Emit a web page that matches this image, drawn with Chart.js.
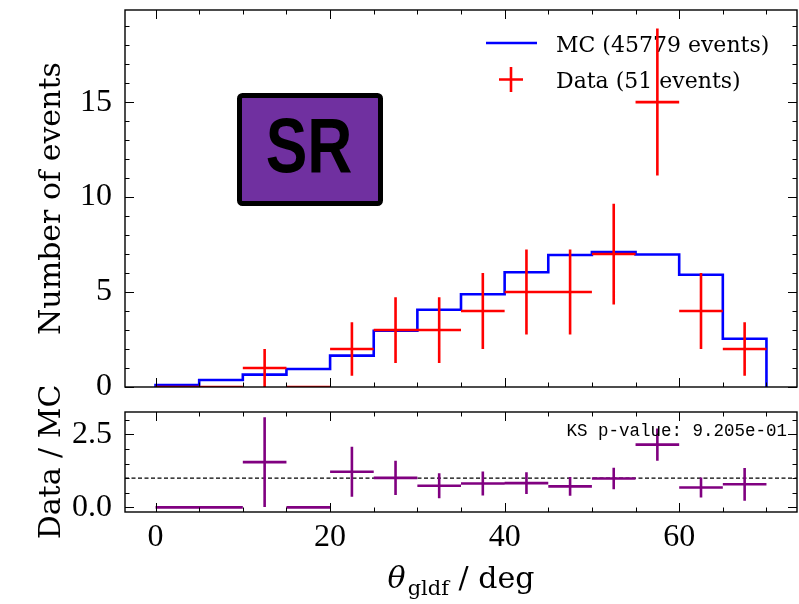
<!DOCTYPE html>
<html lang="en">
<head>
<meta charset="UTF-8">
<title>theta_gldf</title>
<script src="https://cdnjs.cloudflare.com/ajax/libs/Chart.js/4.4.0/chart.umd.min.js"></script>
<style>
  body { margin: 0; background: #fff; }
  #wrap { position: relative; width: 799px; height: 604px; }
  #wrap canvas { position: absolute; left: 0; top: 0; }
</style>
</head>
<body>
<div id="wrap">
  <canvas id="ratioChart" width="799" height="604"></canvas>
  <canvas id="histChart" width="799" height="604"></canvas>
</div>
<script>
// 5 deg bins
const binEdges = [0, 5, 10, 15, 20, 25, 30, 35, 40, 45, 50, 55, 60, 65, 70];
// MC prediction normalised to the data yield
const mcCounts = [0.10, 0.37, 0.65, 0.95, 1.65, 2.96, 4.07, 4.88, 6.04, 6.95, 7.10, 6.98, 5.91, 2.54];
const dataCounts = [0, 0, 1, 0, 2, 3, 3, 4, 5, 5, 7, 15, 4, 2];
const dataErrors = [0, 0, 1.00, 0, 1.41, 1.73, 1.73, 2.00, 2.24, 2.24, 2.65, 3.87, 2.00, 1.41];
// data / MC
const ratioValues = [0, 0, 1.55, 0, 1.22, 1.01, 0.74, 0.82, 0.83, 0.72, 0.99, 2.15, 0.68, 0.79];
const ratioErrors = [0, 0, 1.54, 0, 0.86, 0.59, 0.43, 0.41, 0.37, 0.32, 0.37, 0.55, 0.34, 0.56];
const ratioReference = 1;

const xMajorTicks = [0, 20, 40, 60];
const histYTicks = [0, 5, 10, 15];
const ratioYTicks = [0, 2.5];

const X_MIN = -3.5, X_MAX = 73.5;
const tickFont = { family: 'Liberation Serif', size: 32 };
const labelFamily = 'DejaVu Serif';

function range(from, to, step) {
  const out = [];
  for (let v = from; v <= to + 1e-9; v += step) out.push(+v.toFixed(3));
  return out;
}

// horizontal bar over the bin plus vertical error bar, gaps between crosses
function crossPoints(values, errors) {
  const pts = [];
  values.forEach((v, i) => {
    const lo = binEdges[i], hi = binEdges[i + 1], c = (lo + hi) / 2;
    pts.push({ x: lo, y: v }, { x: hi, y: v }, { x: hi, y: null });
    if (errors[i] > 0) {
      pts.push({ x: c, y: v - errors[i] }, { x: c, y: v + errors[i] }, { x: c, y: null });
    }
  });
  return pts;
}

// step outline of the MC histogram
const mcPoints = [{ x: binEdges[0], y: 0 }];
mcCounts.forEach((v, i) => mcPoints.push({ x: binEdges[i], y: v }));
mcPoints.push({ x: binEdges[binEdges.length - 1], y: 0 });

// inward ticks on all four sides plus the axes frame
const frameTicks = {
  id: 'frameTicks',
  afterDatasetsDraw(chart, args, opts) {
    const { ctx, chartArea: a, scales: { x, y } } = chart;
    ctx.save();
    ctx.strokeStyle = '#000';
    ctx.lineWidth = 1;
    ctx.beginPath();
    const xt = (v, len) => {
      const px = Math.round(x.getPixelForValue(v)) + 0.5;
      ctx.moveTo(px, a.bottom); ctx.lineTo(px, a.bottom - len);
      ctx.moveTo(px, a.top); ctx.lineTo(px, a.top + len);
    };
    const yt = (v, len) => {
      const py = Math.round(y.getPixelForValue(v)) + 0.5;
      ctx.moveTo(a.left, py); ctx.lineTo(a.left + len, py);
      ctx.moveTo(a.right, py); ctx.lineTo(a.right - len, py);
    };
    range(0, 70, 5).forEach(v => xt(v, xMajorTicks.includes(v) ? 9 : 4.5));
    range(opts.yFrom, opts.yTo, opts.yStep).forEach(v => yt(v, opts.yMajor.includes(v) ? 9 : 4.5));
    ctx.stroke();
    ctx.lineWidth = 1.4;
    ctx.strokeRect(a.left, a.top, a.right - a.left, a.bottom - a.top);
    ctx.restore();
  }
};

const histDecor = {
  id: 'histDecor',
  beforeDatasetsDraw(chart) {
    const ctx = chart.ctx;
    ctx.save();
    // legend
    ctx.lineWidth = 2.6;
    ctx.strokeStyle = '#0000ff';
    ctx.beginPath(); ctx.moveTo(486, 43); ctx.lineTo(537, 43); ctx.stroke();
    ctx.strokeStyle = '#ff0000';
    ctx.beginPath();
    ctx.moveTo(499, 79.5); ctx.lineTo(523, 79.5);
    ctx.moveTo(511, 67); ctx.lineTo(511, 92);
    ctx.stroke();
    ctx.fillStyle = '#000';
    ctx.font = '22px ' + labelFamily;
    ctx.textBaseline = 'alphabetic';
    ctx.fillText('MC (45779 events)', 556, 52);
    ctx.fillText('Data (51 events)', 556, 88);
    // y axis title
    ctx.translate(60, (chart.chartArea.top + chart.chartArea.bottom) / 2);
    ctx.rotate(-Math.PI / 2);
    ctx.textAlign = 'center';
    ctx.font = '30px ' + labelFamily;
    ctx.fillText('Number of events', 0, 0);
    ctx.restore();
  },
  afterDraw(chart) {
    const ctx = chart.ctx;
    ctx.save();
    // region tag
    ctx.beginPath();
    ctx.roundRect(239.5, 95.5, 141, 108, 3);
    ctx.fillStyle = '#7030a0';
    ctx.fill();
    ctx.lineWidth = 5;
    ctx.strokeStyle = '#000';
    ctx.stroke();
    ctx.fillStyle = '#000';
    ctx.font = 'bold 78px "Liberation Sans"';
    ctx.textAlign = 'center';
    ctx.translate(309, 172);
    ctx.scale(0.8, 1);
    ctx.fillText('SR', 0, 0);
    ctx.restore();
  }
};

const ratioDecor = {
  id: 'ratioDecor',
  afterDraw(chart) {
    const ctx = chart.ctx;
    const a = chart.chartArea;
    ctx.save();
    ctx.fillStyle = '#000';
    ctx.font = '17.5px "Liberation Mono"';
    ctx.textAlign = 'right';
    ctx.fillText('KS p-value: 9.205e-01', 787, 436);

    // x axis title: theta_gldf / deg
    const main = '30px ' + labelFamily;
    const ital = 'italic 30px ' + labelFamily;
    const sub = '21px ' + labelFamily;
    ctx.textAlign = 'left';
    ctx.font = ital; const wT = ctx.measureText('θ').width;
    ctx.font = sub; const wS = ctx.measureText('gldf').width;
    ctx.font = main; const wD = ctx.measureText(' / deg').width;
    let x0 = (a.left + a.right) / 2 - (wT + 2 + wS + wD) / 2;
    const base = 588;
    ctx.font = ital; ctx.fillText('θ', x0, base); x0 += wT + 2;
    ctx.font = sub; ctx.fillText('gldf', x0, base + 7); x0 += wS;
    ctx.font = main; ctx.fillText(' / deg', x0, base);

    // y axis title
    ctx.translate(60, (a.top + a.bottom) / 2);
    ctx.rotate(-Math.PI / 2);
    ctx.textAlign = 'center';
    ctx.font = '30px ' + labelFamily;
    ctx.fillText('Data / MC', 0, 0);
    ctx.restore();
  }
};

function fixedAxis(size, horizontal) {
  return function (scale) {
    if (horizontal) scale.height = size; else scale.width = size;
    scale.paddingTop = scale.paddingBottom = scale.paddingLeft = scale.paddingRight = 0;
  };
}

new Chart(document.getElementById('histChart'), {
  type: 'scatter',
  data: {
    datasets: [
      {
        label: 'Data (51 events)',
        data: crossPoints(dataCounts, dataErrors),
        showLine: true,
        borderColor: '#ff0000',
        borderWidth: 2.6,
        pointRadius: 0,
        spanGaps: false
      },
      {
        label: 'MC (45779 events)',
        data: mcPoints,
        showLine: true,
        stepped: 'before',
        borderColor: '#0000ff',
        borderWidth: 2.6,
        borderJoinStyle: 'miter',
        pointRadius: 0
      }
    ]
  },
  options: {
    responsive: false,
    animation: false,
    layout: { padding: { top: 10, right: 2, bottom: 217, left: 0 } },
    plugins: {
      legend: { display: false },
      tooltip: { enabled: false },
      frameTicks: { yMajor: histYTicks, yFrom: 0, yTo: 19, yStep: 1 }
    },
    scales: {
      x: { type: 'linear', min: X_MIN, max: X_MAX, display: false },
      y: {
        min: 0, max: 19.85,
        grid: { display: false, drawTicks: false },
        border: { display: false },
        ticks: { font: tickFont, color: '#000', padding: 13 },
        afterBuildTicks: s => { s.ticks = histYTicks.map(v => ({ value: v })); },
        afterFit: fixedAxis(125, false)
      }
    }
  },
  plugins: [frameTicks, histDecor]
});

new Chart(document.getElementById('ratioChart'), {
  type: 'scatter',
  data: {
    datasets: [
      {
        label: 'Data / MC',
        data: crossPoints(ratioValues, ratioErrors),
        showLine: true,
        borderColor: '#800080',
        borderWidth: 2.6,
        pointRadius: 0,
        spanGaps: false
      },
      {
        label: 'reference',
        data: [{ x: X_MIN, y: ratioReference }, { x: X_MAX, y: ratioReference }],
        showLine: true,
        borderColor: '#000',
        borderWidth: 1.2,
        borderDash: [4, 2.5],
        pointRadius: 0
      }
    ]
  },
  options: {
    responsive: false,
    animation: false,
    layout: { padding: { top: 412, right: 2, bottom: 0, left: 0 } },
    plugins: {
      legend: { display: false },
      tooltip: { enabled: false },
      frameTicks: { yMajor: ratioYTicks, yFrom: 0, yTo: 3, yStep: 0.5 }
    },
    scales: {
      x: {
        type: 'linear', min: X_MIN, max: X_MAX,
        grid: { display: false, drawTicks: false },
        border: { display: false },
        ticks: { font: tickFont, color: '#000', padding: 6 },
        afterBuildTicks: s => { s.ticks = xMajorTicks.map(v => ({ value: v })); },
        afterFit: fixedAxis(92, true)
      },
      y: {
        min: -0.16, max: 3.27,
        grid: { display: false, drawTicks: false },
        border: { display: false },
        ticks: { font: tickFont, color: '#000', padding: 13, callback: v => v.toFixed(1) },
        afterBuildTicks: s => { s.ticks = ratioYTicks.map(v => ({ value: v })); },
        afterFit: fixedAxis(125, false)
      }
    }
  },
  plugins: [frameTicks, ratioDecor]
});
</script>
</body>
</html>
